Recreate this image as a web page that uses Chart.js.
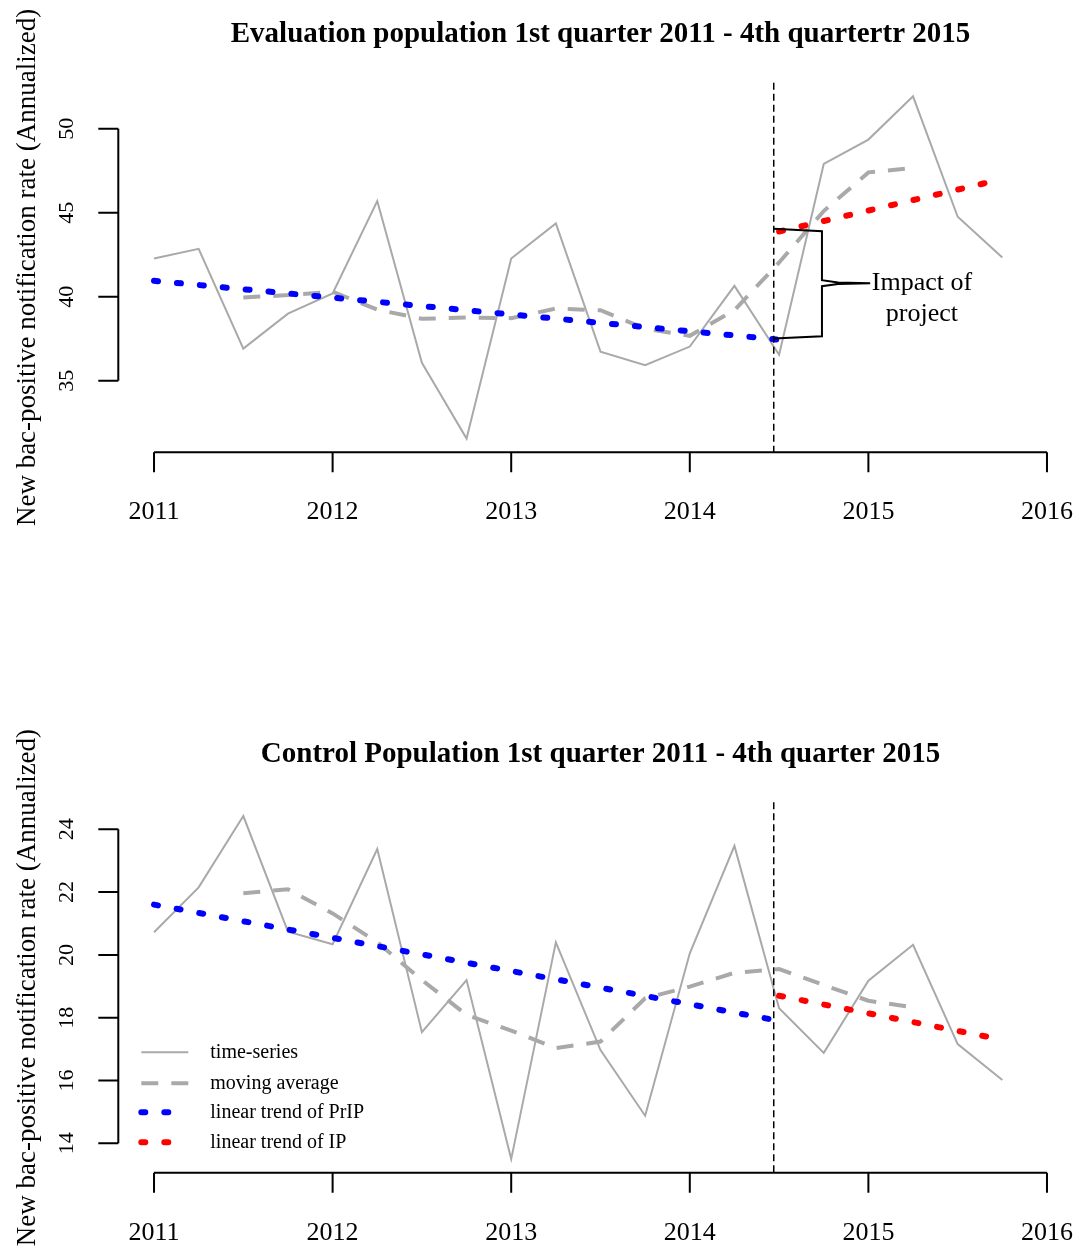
<!DOCTYPE html>
<html>
<head>
<meta charset="utf-8">
<script src="https://cdn.jsdelivr.net/npm/chart.js@4.4.1/dist/chart.umd.min.js"></script>
<style>
  body { margin: 0; background: #fff; }
  canvas { display: block; }
</style>
</head>
<body>
<canvas id="evalChart" width="1091" height="720"></canvas>
<canvas id="controlChart" width="1091" height="527"></canvas>
<script>
// quarters as decimal years (1st quarter 2011 .. 4th quarter 2015)
const quarters = [2011, 2011.25, 2011.5, 2011.75, 2012, 2012.25, 2012.5, 2012.75,
                  2013, 2013.25, 2013.5, 2013.75, 2014, 2014.25, 2014.5, 2014.75,
                  2015, 2015.25, 2015.5, 2015.75];
// moving average is centred, so it only covers 3rd quarter 2011 .. 2nd quarter 2015
const maQuarters = quarters.slice(2, 18);

const evalSeries = [42.28, 42.85, 36.92, 39.0, 40.2, 45.7, 36.07, 31.57, 42.28, 44.36,
                    36.74, 35.93, 37.04, 40.65, 36.55, 47.9, 49.35, 51.92, 44.76, 42.34];
const evalMovingAvg = [39.96, 40.1, 40.3, 39.24, 38.69, 38.77, 38.73, 39.3,
                       39.2, 38.1, 37.68, 39.2, 42.04, 45.1, 47.4, 47.66];
const evalTrendPrIP = [[2011, 40.95], [2014.5, 37.45]];
const evalTrendIP = [[2014.5, 43.88], [2015.75, 47.0]];

const controlSeries = [20.72, 22.15, 24.42, 20.74, 20.34, 23.37, 17.54, 19.2, 13.5, 20.4,
                       16.97, 14.88, 20.05, 23.47, 18.3, 16.88, 19.18, 20.32, 17.16, 16.02];
const controlMovingAvg = [21.96, 22.09, 21.32, 20.4, 19.2, 18.09, 17.59, 17.03,
                          17.24, 18.62, 18.99, 19.43, 19.55, 19.04, 18.54, 18.33];
const controlTrendPrIP = [[2011, 21.6], [2014.5, 17.9]];
const controlTrendIP = [[2014.5, 18.7], [2015.75, 17.3]];

const xTicks = [2011, 2012, 2013, 2014, 2015, 2016];
const evalYTicks = [35, 40, 45, 50];
const controlYTicks = [14, 16, 18, 20, 22, 24];
const interventionStart = 2014.47;

const SERIF = '"Liberation Serif", "Times New Roman", serif';
const GRAY = '#A9A9A9';

// R style: limits extended by 4% on each side
function padRange(lo, hi) {
  const d = (hi - lo) * 0.04;
  return [lo - d, hi + d];
}

function buildDatasets(series, ma, prip, ip) {
  return [
    { label: 'time-series', data: quarters.map((q, i) => ({ x: q, y: series[i] })),
      borderColor: GRAY, borderWidth: 2, order: 4 },
    { label: 'moving average', data: maQuarters.map((q, i) => ({ x: q, y: ma[i] })),
      borderColor: GRAY, borderWidth: 4, borderDash: [17, 13], order: 3 },
    { label: 'linear trend of PrIP', data: prip.map(p => ({ x: p[0], y: p[1] })),
      borderColor: '#0000FF', borderWidth: 6, borderDash: [4, 19], borderCapStyle: 'round', order: 2 },
    { label: 'linear trend of IP', data: ip.map(p => ({ x: p[0], y: p[1] })),
      borderColor: '#FF0000', borderWidth: 6, borderDash: [4, 19], borderCapStyle: 'round', order: 1 }
  ];
}

const rPlotPlugin = {
  id: 'rPlot',
  afterDraw(chart, args, opts) {
    const { ctx, chartArea: area } = chart;
    const x = chart.scales.x, y = chart.scales.y;
    ctx.save();
    ctx.strokeStyle = '#000';
    ctx.fillStyle = '#000';

    // intervention line
    const vx = x.getPixelForValue(interventionStart);
    ctx.lineWidth = 1.5;
    ctx.setLineDash([7, 4]);
    ctx.beginPath();
    ctx.moveTo(vx, area.top);
    ctx.lineTo(vx, area.bottom);
    ctx.stroke();
    ctx.setLineDash([]);

    // x axis
    ctx.lineWidth = 2;
    const xs = xTicks.map(v => x.getPixelForValue(v));
    ctx.beginPath();
    ctx.moveTo(xs[0], area.bottom);
    ctx.lineTo(xs[xs.length - 1], area.bottom);
    xs.forEach(px => { ctx.moveTo(px, area.bottom); ctx.lineTo(px, area.bottom + 20); });
    ctx.stroke();
    ctx.font = '26px ' + SERIF;
    ctx.textAlign = 'center';
    ctx.textBaseline = 'middle';
    xTicks.forEach((v, i) => ctx.fillText(String(v), xs[i], area.bottom + 60));

    // y axis
    const ys = opts.yTicks.map(v => y.getPixelForValue(v));
    ctx.beginPath();
    ctx.moveTo(area.left, ys[0]);
    ctx.lineTo(area.left, ys[ys.length - 1]);
    ys.forEach(py => { ctx.moveTo(area.left, py); ctx.lineTo(area.left - 20, py); });
    ctx.stroke();
    ctx.font = '22px ' + SERIF;
    opts.yTicks.forEach((v, i) => {
      ctx.save();
      ctx.translate(area.left - 51, ys[i]);
      ctx.rotate(-Math.PI / 2);
      ctx.fillText(String(v), 0, 0);
      ctx.restore();
    });

    // axis title
    ctx.save();
    ctx.font = '27px ' + SERIF;
    ctx.translate(28, (area.top + area.bottom) / 2);
    ctx.rotate(-Math.PI / 2);
    ctx.fillText(opts.yTitle, 0, 0);
    ctx.restore();

    // main title
    ctx.font = 'bold 29px ' + SERIF;
    ctx.fillText(opts.title, (area.left + area.right) / 2, 35);

    // impact bracket
    if (opts.bracket) {
      const b = opts.bracket;
      const X = v => x.getPixelForValue(v), Y = v => y.getPixelForValue(v);
      ctx.lineWidth = 2;
      ctx.beginPath();
      ctx.moveTo(X(b.x0), Y(b.top[0]));
      ctx.lineTo(X(b.x1), Y(b.top[1]));
      ctx.lineTo(X(b.x1), Y(b.mid + b.gap));
      ctx.lineTo(X(b.xKink), Y(b.mid + b.gap / 4));
      ctx.lineTo(X(b.xTip), Y(b.mid));
      ctx.lineTo(X(b.xKink), Y(b.mid - b.gap / 4));
      ctx.lineTo(X(b.x1), Y(b.mid - b.gap));
      ctx.lineTo(X(b.x1), Y(b.bottom[1]));
      ctx.lineTo(X(b.x0), Y(b.bottom[0]));
      ctx.stroke();
      ctx.font = '26px ' + SERIF;
      ctx.textAlign = 'center';
      ctx.textBaseline = 'middle';
      b.text.forEach((t, i) => ctx.fillText(t, X(b.textX), Y(b.mid) + i * 31));
    }

    // legend
    if (opts.legend) {
      const rows = [area.top + 250, area.top + 281, area.top + 310, area.top + 340];
      ctx.font = '20px ' + SERIF;
      ctx.textAlign = 'left';
      chart.data.datasets.forEach((ds, i) => {
        const round = ds.borderCapStyle === 'round';
        ctx.save();
        ctx.strokeStyle = ds.borderColor;
        ctx.lineWidth = ds.borderWidth;
        ctx.lineCap = round ? 'round' : 'butt';
        ctx.setLineDash(ds.borderDash || []);
        ctx.beginPath();
        ctx.moveTo(area.left + 23, rows[i]);
        ctx.lineTo(area.left + (round ? 50 : 70), rows[i]);
        ctx.stroke();
        ctx.restore();
        ctx.fillText(ds.label, area.left + 92, rows[i]);
      });
    }
    ctx.restore();
  }
};

function makeChart(id, series, ma, prip, ip, yTicks, title, pad, extra) {
  const xr = padRange(xTicks[0], xTicks[xTicks.length - 1]);
  const yr = padRange(Math.min(...series), Math.max(...series));
  return new Chart(document.getElementById(id), {
    type: 'line',
    data: { datasets: buildDatasets(series, ma, prip, ip) },
    options: {
      responsive: false,
      animation: false,
      layout: { padding: pad },
      elements: { point: { radius: 0 }, line: { tension: 0 } },
      scales: {
        x: { type: 'linear', min: xr[0], max: xr[1], display: false },
        y: { type: 'linear', min: yr[0], max: yr[1], display: false }
      },
      plugins: {
        legend: { display: false },
        tooltip: { enabled: false },
        rPlot: Object.assign({
          yTicks: yTicks,
          title: title,
          yTitle: 'New bac-positive notification rate (Annualized)'
        }, extra)
      }
    },
    plugins: [rPlotPlugin]
  });
}

makeChart('evalChart', evalSeries, evalMovingAvg, evalTrendPrIP, evalTrendIP, evalYTicks,
  'Evaluation population 1st quarter 2011 - 4th quartertr 2015',
  { top: 82.7, bottom: 720 - 452.2, left: 118.3, right: 8.3 },
  { bracket: { x0: interventionStart, x1: 2014.74, xKink: 2014.83, xTip: 2015.01,
               top: [44.05, 43.9], bottom: [37.52, 37.65], mid: 40.81, gap: 0.18,
               textX: 2015.3, text: ['Impact of', 'project'] } });

makeChart('controlChart', controlSeries, controlMovingAvg, controlTrendPrIP, controlTrendIP, controlYTicks,
  'Control Population 1st quarter 2011 - 4th quarter 2015',
  { top: 82.3, bottom: 527 - 452.8, left: 118.3, right: 8.3 },
  { legend: true });
</script>
</body>
</html>
